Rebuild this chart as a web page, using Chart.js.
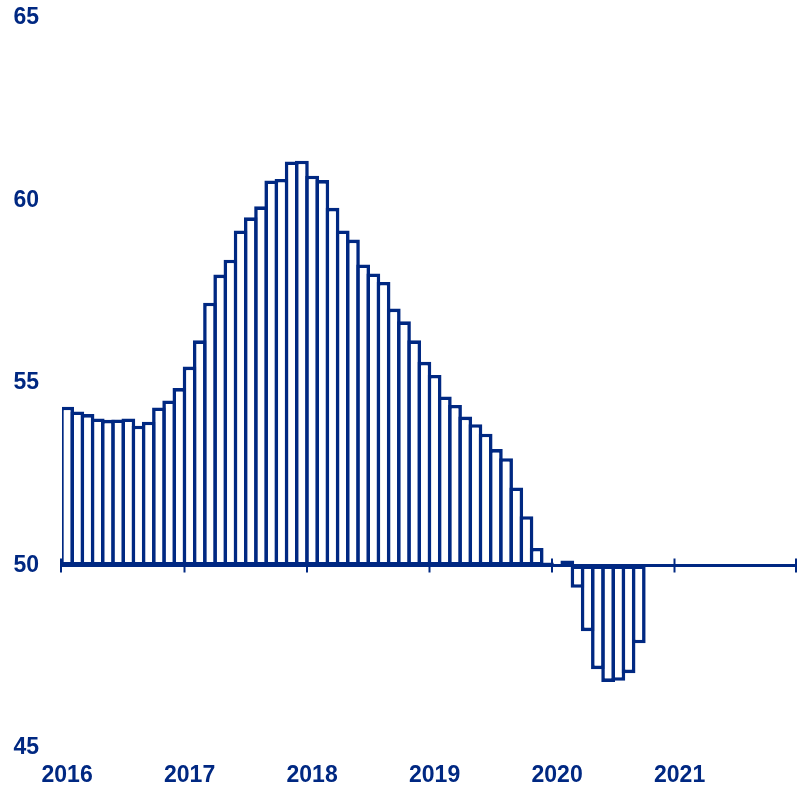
<!DOCTYPE html>
<html>
<head>
<meta charset="utf-8">
<script src="https://cdn.jsdelivr.net/npm/chart.js@4/dist/chart.umd.min.js"></script>
<style>
  body { margin: 0; background: #fff; }
  #wrap { width: 798px; height: 788px; }
</style>
</head>
<body>
<div id="wrap"><canvas id="chart" width="798" height="788"></canvas></div>
<script>
// Data
const years = ["2016", "2017", "2018", "2019", "2020", "2021"];
const monthNames = ["Jan", "Feb", "Mar", "Apr", "May", "Jun", "Jul", "Aug", "Sep", "Oct", "Nov", "Dec"];
const values2016 = [54.35, 54.22, 54.15, 54.03, 53.99, 54.0, 54.03, 53.83, 53.94, 54.33, 54.52, 54.86];
const values2017 = [55.45, 56.17, 57.2, 57.97, 58.38, 59.18, 59.54, 59.84, 60.55, 60.59, 61.07, 61.09];
const values2018 = [60.68, 60.56, 59.8, 59.18, 58.93, 58.25, 58.0, 57.77, 57.04, 56.69, 56.17, 55.58];
const values2019 = [55.22, 54.63, 54.4, 54.08, 53.87, 53.61, 53.19, 52.94, 52.14, 51.35, 50.48, 50.08];
const values2020 = [49.98, 50.14, 49.39, 48.2, 47.16, 46.81, 46.84, 47.05, 47.87];
const yTicks = [45, 50, 55, 60, 65];
const baseValue = 50;

const navy = "#002882";
const tickFont = { family: "'Liberation Sans', Arial, sans-serif", size: 23, weight: "bold" };

// month labels for the whole axis (2016-2021)
const labels = [];
years.forEach((y) => monthNames.forEach((m) => labels.push(m + " " + y)));
const values = [].concat(values2016, values2017, values2018, values2019, values2020);

// Axis line at 50 with year ticks
const baseLine = {
  id: "baseLine",
  afterDatasetsDraw(chart) {
    const { ctx, chartArea, scales } = chart;
    const x = scales.x;
    const y0 = scales.y.getPixelForValue(baseValue);
    const step = x.getPixelForValue(1) - x.getPixelForValue(0);
    ctx.save();
    ctx.strokeStyle = navy;
    ctx.lineWidth = 3;
    ctx.beginPath();
    ctx.moveTo(chartArea.left - 2, y0);
    ctx.lineTo(chartArea.right, y0);
    ctx.stroke();
    ctx.lineWidth = 2;
    for (let i = 0; i <= labels.length; i += 12) {
      let px = x.getPixelForValue(i) - step / 2;
      if (i === 0) px -= 1;
      if (i === labels.length) px -= 1;
      ctx.beginPath();
      ctx.moveTo(px, y0 - 7);
      ctx.lineTo(px, y0 + 7);
      ctx.stroke();
    }
    ctx.restore();
  },
};

// bars are a bit wider than their slot so neighbours share one wall
new Chart(document.getElementById("chart"), {
  type: "bar",
  data: {
    labels: labels,
    datasets: [
      {
        data: values,
        base: baseValue,
        backgroundColor: "#ffffff",
        borderColor: navy,
        borderWidth: 3.6,
        borderSkipped: false,
        categoryPercentage: 1.35,
        barPercentage: 1,
      },
    ],
  },
  options: {
    responsive: false,
    animation: false,
    layout: { padding: { top: 18, right: 1, left: 0, bottom: 0 } },
    plugins: { legend: { display: false }, tooltip: { enabled: false } },
    scales: {
      x: {
        afterFit: (scale) => { scale.height = 40; scale.paddingLeft = 0; scale.paddingRight = 0; },
        grid: { display: false, drawTicks: false },
        border: { display: false },
        ticks: {
          color: navy,
          font: tickFont,
          autoSkip: false,
          maxRotation: 0,
          padding: 14,
          callback: (v, i) => (i % 12 === 0 ? labels[i].slice(4) : ""),
        },
      },
      y: {
        min: 45,
        max: 65,
        afterFit: (scale) => { scale.width = 62; scale.paddingTop = 0; scale.paddingBottom = 0; },
        afterBuildTicks: (scale) => { scale.ticks = yTicks.map((v) => ({ value: v })); },
        grid: { display: false, drawTicks: false },
        border: { display: false },
        ticks: { color: navy, font: tickFont, padding: 23 },
      },
    },
  },
  plugins: [baseLine],
});
</script>
</body>
</html>
